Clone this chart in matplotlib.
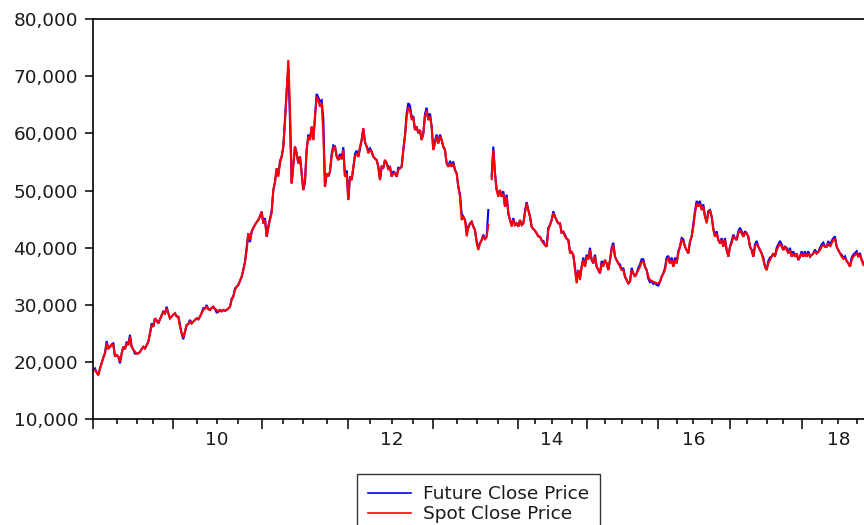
import numpy as np
import matplotlib
matplotlib.use("Agg")
import matplotlib.pyplot as plt

nan = np.nan

# Weekly close prices (one value per week, first week = 0)
spot_close = [
    18600, 18640, 18200, 17760, 18900, 19860, 20800, 21600, 23360, 22400,
    22700, 23100, 23000, 21000, 21260, 21000, 20100, 21500, 22700, 22300,
    23360, 23000, 24450, 22700, 22200, 21830, 21500, 21550, 21800, 22300,
    22700, 22400, 23000, 23580, 25050, 26500, 26200, 27670, 27300, 26800,
    27500, 28200, 28830, 28500, 29420, 28600, 27670, 28000, 28300, 28550,
    28000, 27960, 26200, 25050, 24300, 25330, 26500, 26700, 27080, 26800,
    27080, 27400, 27670, 27500, 27960, 28600, 29130, 29400, 29700, 29300,
    29130, 29500, 29700, 29300, 29130, 28800, 29130, 28900, 29130, 29000,
    29130, 29400, 29700, 30870, 31500, 32620, 33200, 33500, 34200, 34950,
    36120, 37500, 39620, 42530, 41370, 42820, 43500, 43990, 44500, 44860,
    45500, 46320, 44280, 44860, 41940, 43400, 45000, 46030, 50100, 51500,
    53900, 52430, 54770, 55940, 57690, 62000, 67600, 72830, 64670, 51270,
    54180, 57690, 56520, 54770, 55940, 53030, 50100, 51850, 57100, 59430,
    58850, 61190, 58850, 62920, 66420, 65840, 64670, 65260, 60000, 50670,
    53000, 52500, 53300, 55940, 57500, 57690, 56000, 55350, 56000, 55500,
    57100, 52430, 53030, 48360, 52500, 51850, 54000, 56000, 56520, 55900,
    57690, 58850, 60890, 58500, 57690, 56520, 57100, 56800, 55940, 55600,
    55350, 54180, 51850, 54180, 54000, 55350, 54800, 53600, 54180, 52430,
    53000, 53030, 52430, 53600, 53900, 54180, 57100, 59430, 62920, 64500,
    64090, 62340, 62920, 60600, 61190, 60020, 60600, 58850, 60020, 62920,
    64090, 62340, 62920, 61190, 57100, 58260, 59430, 58260, 59430, 58850,
    57690, 57100, 54770, 54180, 54770, 54180, 54770, 53600, 53030, 50670,
    48920, 44860, 45450, 44860, 42000, 43500, 44280, 44570, 43690, 43110,
    40780, 39620, 40780, 41370, 41940, 41500, 41940, 44000, nan, 52000,
    57100, 53030, 50100, 48920, 50100, 48920, 49520, 47200, 48920, 46030,
    44860, 43690, 44860, 44000, 44280, 43700, 44860, 44000, 44280, 46000,
    47790, 46610, 45450, 43690, 43300, 43000, 42530, 42000, 41940, 41300,
    40780, 40500, 40200, 43110, 44000, 44860, 46030, 45450, 44800, 44280,
    44280, 42530, 42800, 41940, 41600, 41370, 39030, 39300, 38740, 36120,
    33800, 36120, 34370, 36700, 37870, 36700, 38450, 38000, 39620, 37870,
    37290, 38450, 36700, 36120, 35540, 37290, 36700, 37870, 37290, 36120,
    37870, 39620, 40490, 38450, 37870, 37290, 36700, 36120, 36120, 34950,
    34370, 33790, 34080, 36120, 35540, 34950, 35540, 36120, 36700, 37580,
    37580, 36700, 36120, 34950, 34370, 34200, 34080, 33900, 33790, 33790,
    34080, 34950, 35540, 36120, 37870, 38160, 37290, 37870, 36700, 37870,
    37290, 39030, 40200, 41370, 41080, 40200, 39620, 39030, 41080, 41940,
    43690, 46030, 47790, 47200, 47790, 46610, 47200, 45450, 44280, 46030,
    46610, 45450, 43110, 41940, 42530, 41370, 40780, 41370, 40200, 41370,
    39620, 38450, 40200, 40780, 41940, 41700, 41370, 42530, 43110, 42530,
    41940, 42530, 42530, 41940, 40200, 39620, 38450, 40200, 40780, 40200,
    39620, 39030, 37870, 36700, 36120, 37290, 37870, 38450, 39030, 38450,
    39620, 40200, 40780, 40200, 39620, 40200, 39620, 39030, 39620, 38450,
    39030, 38450, 39030, 37870, 38450, 39030, 38450, 39030, 38450, 39030,
    38450, 38740, 39030, 39320, 39030, 39300, 39620, 40200, 40490, 40200,
    40200, 40780, 40200, 40780, 41370, 41660, 40200, 39620, 39030, 38450,
    38160, 38160, 37700, 37290, 36700, 37870, 38450, 38740, 39030, 38450,
    38740, 37870, 37000,
]

future_close = [
    18600, 18900, 18200, 17760, 18900, 19860, 20800, 21600, 23700, 22400,
    22700, 23100, 23300, 21000, 21260, 21000, 19800, 21500, 22700, 22300,
    23600, 23000, 24800, 22700, 22200, 21500, 21500, 21550, 21800, 22300,
    22700, 22400, 23000, 23580, 25050, 26800, 26200, 27670, 27300, 26800,
    27500, 28200, 28830, 28500, 29700, 28600, 27670, 28000, 28300, 28550,
    28000, 27960, 26600, 25050, 24000, 25330, 26500, 26700, 27400, 26800,
    27080, 27400, 27670, 27500, 27960, 28600, 29450, 29400, 30000, 29300,
    29130, 29500, 29700, 29300, 28700, 28800, 29130, 28900, 29130, 29000,
    29130, 29400, 29700, 31100, 31500, 32900, 33200, 33500, 34200, 34950,
    36120, 37500, 40100, 42530, 41000, 42820, 43500, 43990, 44500, 44860,
    45500, 46320, 44280, 45200, 41940, 43800, 45000, 46500, 50100, 51500,
    53900, 52800, 55200, 55940, 57690, 62400, 67300, 71500, 62300, 51270,
    54600, 57690, 56520, 54770, 55940, 53030, 50100, 51400, 57100, 59800,
    58850, 61190, 58850, 62920, 66900, 66300, 65600, 65800, 62600, 50670,
    53000, 52500, 53300, 56400, 57900, 57690, 56000, 55350, 56400, 55500,
    57600, 52430, 53500, 48360, 52500, 51850, 54000, 56400, 57000, 55900,
    57300, 58850, 60890, 58500, 57690, 57000, 57400, 56800, 55940, 55600,
    55350, 54180, 51850, 54180, 54000, 55350, 54800, 54100, 54180, 52430,
    53400, 53030, 52430, 54000, 53900, 54180, 57100, 59700, 63500, 65300,
    64800, 63000, 62920, 60600, 61190, 60020, 60600, 58850, 60020, 63400,
    64500, 62340, 63500, 61190, 57100, 58700, 59800, 58260, 59800, 58850,
    57690, 57100, 54770, 54180, 55200, 54180, 55100, 53600, 53030, 50670,
    49400, 46000, 45450, 44860, 43600, 43500, 44280, 44570, 43690, 43110,
    41200, 40000, 40780, 41370, 42300, 41500, 41940, 46600, nan, 52500,
    57700, 53030, 50100, 49400, 50100, 48920, 49900, 47200, 49300, 46030,
    44860, 44100, 45200, 44000, 44280, 43700, 44860, 44000, 44280, 46400,
    48000, 46610, 45450, 43690, 43300, 43000, 42530, 42000, 41940, 41300,
    41200, 40500, 40200, 43500, 44000, 44860, 46400, 45450, 44800, 44280,
    44280, 42530, 42800, 42300, 41600, 41370, 39400, 39300, 38740, 36600,
    34300, 36120, 34800, 36700, 38300, 36700, 38800, 38000, 40000, 37870,
    37290, 38800, 36700, 36120, 35540, 37700, 37100, 37870, 37290, 36120,
    37870, 40000, 40900, 38450, 37870, 37290, 37100, 36120, 36500, 34950,
    34370, 33790, 34080, 36500, 35540, 34950, 35540, 36500, 37100, 38000,
    38000, 36700, 36120, 34600, 34000, 34200, 33700, 33900, 33500, 33400,
    34080, 34950, 35540, 36500, 38300, 38600, 37290, 38300, 36700, 38300,
    37290, 39400, 40200, 41700, 41500, 40200, 39620, 39030, 41080, 41940,
    44100, 46400, 48200, 47600, 48200, 46610, 47600, 45450, 44700, 46400,
    46610, 45450, 43500, 41940, 42900, 41370, 40780, 41700, 40200, 41700,
    39620, 38450, 40200, 41200, 42300, 41700, 41370, 42900, 43500, 42900,
    41940, 42900, 42530, 41940, 40200, 39620, 38450, 40600, 41200, 40200,
    39620, 39030, 38300, 36700, 36120, 37700, 38300, 38450, 39030, 38450,
    40000, 40600, 41200, 40600, 39620, 40200, 40000, 39030, 40000, 38450,
    39400, 38450, 39030, 37870, 38450, 39400, 38450, 39400, 38450, 39400,
    38450, 38740, 39030, 39700, 39030, 39300, 40000, 40600, 40900, 40200,
    40200, 41200, 40200, 41200, 41700, 42000, 40200, 39620, 39030, 38800,
    38160, 38500, 37700, 37290, 36700, 38300, 38800, 39100, 39400, 38450,
    39100, 37870, 37400,
]

# Axis ticks, in weeks from the first observation
quarter_weeks = [0, 14, 26, 36, 48, 62, 74, 87, 101, 114, 126, 140, 153, 166,
                 179, 192, 204, 218, 230, 243, 255, 265, 275, 287, 296, 307,
                 317, 329, 339, 350, 360, 371, 382, 392, 404, 414, 425, 437,
                 447, 458]
year_weeks = quarter_weeks[::4]
label_weeks = [74, 179, 275, 360, 447]
year_labels = ["10", "12", "14", "16", "18"]
price_ticks = [10000, 20000, 30000, 40000, 50000, 60000, 70000, 80000]

plt.rcParams["font.family"] = ["DejaVu Sans"]
text_color = "#1a1a1a"
font_size = 13.3

fig = plt.figure(figsize=(8.64, 5.25), dpi=100)
ax = fig.add_axes([0.108, 0.2011, 0.9105, 0.7627])

weeks = np.arange(len(spot_close))
ax.plot(weeks, future_close, color="#0000ff", lw=1.5, label="Future Close Price",
        solid_joinstyle="miter")
ax.plot(weeks, spot_close, color="#ff0000", lw=1.5, label="Spot Close Price",
        solid_joinstyle="miter")

ax.set_xlim(0, 472)
ax.set_ylim(10000, 80000)

ax.set_yticks(price_ticks)
ax.set_yticklabels([f"{v:,}" for v in price_ticks])

minor_weeks = [w for w in quarter_weeks if w not in year_weeks]
minor_labels = [year_labels[label_weeks.index(w)] if w in label_weeks else ""
                for w in minor_weeks]
ax.set_xticks(year_weeks)
ax.set_xticklabels([""] * len(year_weeks))
ax.set_xticks(minor_weeks, minor=True)
ax.set_xticklabels(minor_labels, minor=True)

ax.tick_params(axis="y", which="major", direction="out", length=6, width=1.1,
               pad=5, labelsize=font_size, labelcolor=text_color)
ax.tick_params(axis="x", which="major", direction="out", length=7, width=1.1,
               labelsize=font_size)
ax.tick_params(axis="x", which="minor", direction="out", length=3.6, width=1.1,
               pad=5, labelsize=font_size, labelcolor=text_color)

for side in ("left", "bottom", "top", "right"):
    ax.spines[side].set_linewidth(1.2)
    ax.spines[side].set_color("black")

leg = fig.legend(loc="upper left", bbox_to_anchor=(357 / 864, 51 / 525),
                 bbox_transform=fig.transFigure, frameon=True, fancybox=False,
                 shadow=False, fontsize=font_size, handlelength=2.35,
                 handletextpad=0.6, labelspacing=0.12, borderpad=0.6,
                 borderaxespad=0.0)
leg.get_frame().set_edgecolor("black")
leg.get_frame().set_linewidth(1.0)
for t in leg.get_texts():
    t.set_color(text_color)
for h in leg.legend_handles:
    h.set_linewidth(1.2)

fig.savefig("out.png", dpi=100)
